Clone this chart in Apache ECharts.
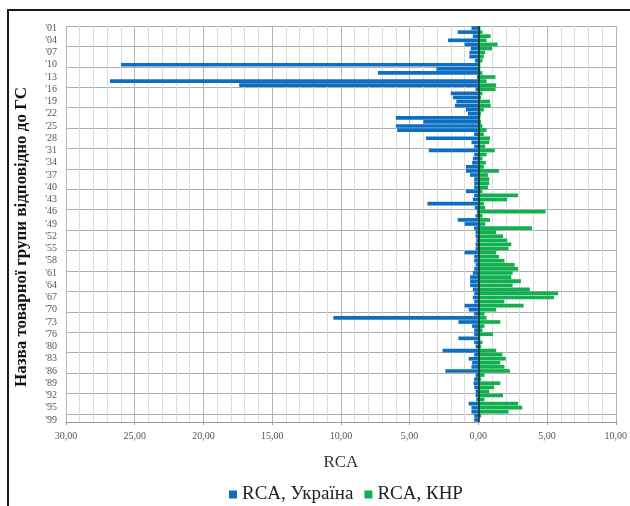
<!DOCTYPE html>
<html>
<head>
<meta charset="utf-8">
<script src="https://cdn.jsdelivr.net/npm/echarts@6/dist/echarts.min.js"></script>
<style>
html,body{margin:0;padding:0;background:#fff;}
#chart{width:630px;height:506px;}
</style>
</head>
<body>
<div id="chart"></div>
<script>
// HS commodity groups (77 and 98 absent)
var categories = ["'01","'02","'03","'04","'05","'06","'07","'08","'09","'10",
"'11","'12","'13","'14","'15","'16","'17","'18","'19","'20",
"'21","'22","'23","'24","'25","'26","'27","'28","'29","'30",
"'31","'32","'33","'34","'35","'36","'37","'38","'39","'40",
"'41","'42","'43","'44","'45","'46","'47","'48","'49","'50",
"'51","'52","'53","'54","'55","'56","'57","'58","'59","'60",
"'61","'62","'63","'64","'65","'66","'67","'68","'69","'70",
"'71","'72","'73","'74","'75","'76","'78","'79","'80","'81",
"'82","'83","'84","'85","'86","'87","'88","'89","'90","'91",
"'92","'93","'94","'95","'96","'97","'99"];

// RCA, Україна (magnitudes; drawn to the left of zero)
var rcaUkraine = [0.5,1.5,0.4,2.2,1.0,0.55,0.65,0.65,0.25,26.0,
3.05,7.3,0.1,26.8,17.4,0.2,2.0,1.85,1.6,1.7,
0.9,0.75,6.0,4.0,6.0,5.9,0.3,3.8,0.5,0.3,
3.6,0.3,0.4,0.45,0.9,0.9,0.6,0.3,0.3,0.3,
0.9,0.3,0.4,3.7,0.25,0.1,0.2,1.5,1.0,0.3,
0.2,0.2,0.15,0.2,0.2,1.0,0.3,0.3,0.2,0.3,
0.4,0.6,0.6,0.6,0.4,0.3,0.4,0.3,1.0,0.7,
0.3,10.55,1.45,0.45,0.3,0.3,1.45,0.3,0.2,2.6,
0.3,0.7,0.45,0.5,2.4,0.2,0.3,0.35,0.3,0.2,
0.2,0.15,0.7,0.5,0.5,0.3,0.3];

// RCA, КНР
var rcaChina = [0.15,0.3,0.9,0.6,1.4,1.0,0.5,0.4,0.3,0.15,
0.15,0.3,1.25,0.6,1.3,1.25,0.3,0.2,0.85,0.9,
0.4,0.2,0.15,0.2,0.3,0.6,0.4,0.85,0.8,0.5,
1.2,0.6,0.3,0.55,0.4,1.5,0.7,0.8,0.8,0.7,
0.3,2.9,2.1,0.4,0.5,4.9,0.3,0.85,0.5,3.9,
1.3,1.8,2.1,2.4,2.2,1.3,1.5,1.9,2.65,2.9,
2.5,2.4,3.1,2.5,3.75,5.8,5.5,1.9,3.3,1.3,
0.45,0.6,1.6,0.45,0.3,1.07,0.15,0.3,0.2,1.3,
1.75,2.0,1.6,1.9,2.3,0.45,0.2,1.6,1.15,0.8,
1.8,0.45,2.9,3.2,2.2,0.2,0.05];

var xTicks = {min: -30, max: 10, interval: 5};
var seriesNames = ['RCA, Україна', 'RCA, КНР'];
var axisTitleY = 'Назва товарної групи відповідно до ГС';
var axisTitleX = 'RCA';

var serif = "'Liberation Serif', serif";
var chart = echarts.init(document.getElementById('chart'), null, {renderer: 'canvas'});

chart.setOption({
  animation: false,
  backgroundColor: '#ffffff',
  textStyle: {fontFamily: serif},
  grid: {left: 66, right: 12, top: 26, bottom: 84, containLabel: false},
  graphic: [{
    type: 'rect', silent: true, z: 100,
    shape: {x: 8, y: 10, width: 640, height: 520},
    style: {fill: 'none', stroke: '#1a1a1a', lineWidth: 2}
  }],
  legend: {
    left: 224, top: 480,
    itemWidth: 8, itemHeight: 8, itemGap: 11,
    icon: 'rect',
    textStyle: {fontFamily: serif, fontSize: 19, color: '#222'},
    data: seriesNames
  },
  xAxis: {
    type: 'value',
    min: xTicks.min, max: xTicks.max, interval: xTicks.interval,
    name: axisTitleX, nameLocation: 'middle', nameGap: 32,
    nameTextStyle: {fontFamily: serif, fontSize: 17, color: '#333'},
    axisLine: {show: true, onZero: false, lineStyle: {color: '#9a9a9a'}},
    axisTick: {show: true, length: 3, lineStyle: {color: '#9a9a9a'}},
    axisLabel: {
      fontFamily: serif, fontSize: 10, color: '#555', margin: 9,
      formatter: function (v) { return Math.abs(v).toFixed(2).replace('.', ','); }
    },
    splitLine: {show: true, lineStyle: {color: '#b4b4b4', width: 1}},
    minorTick: {show: false, splitNumber: 5},
    minorSplitLine: {show: true, lineStyle: {color: '#dcdcdc', width: 1}}
  },
  yAxis: {
    type: 'category',
    inverse: true,
    data: categories,
    name: axisTitleY, nameLocation: 'middle', nameGap: 36, nameRotate: 90,
    nameTextStyle: {fontFamily: serif, fontSize: 17, fontWeight: 'bold', color: '#111', padding: [0, 26, 0, 0]},
    axisLine: {show: false},
    axisTick: {show: false},
    axisLabel: {interval: 2, fontFamily: serif, fontSize: 10, color: '#555', margin: 9},
    splitLine: {show: true, interval: 4, lineStyle: {color: '#adadad', width: 1}}
  },
  series: [{
    name: seriesNames[0],
    type: 'bar',
    barGap: '-100%',
    barCategoryGap: '10%',
    itemStyle: {color: '#0d6fc4'},
    data: rcaUkraine.map(function (v) { return -v; })
  }, {
    name: seriesNames[1],
    type: 'bar',
    barGap: '-100%',
    barCategoryGap: '10%',
    itemStyle: {color: '#10b04f'},
    data: rcaChina,
    markLine: {
      silent: true, symbol: 'none', label: {show: false},
      lineStyle: {color: '#0a2a12', type: 'solid', width: 1.5},
      data: [{xAxis: 0}]
    }
  }]
});
</script>
</body>
</html>
